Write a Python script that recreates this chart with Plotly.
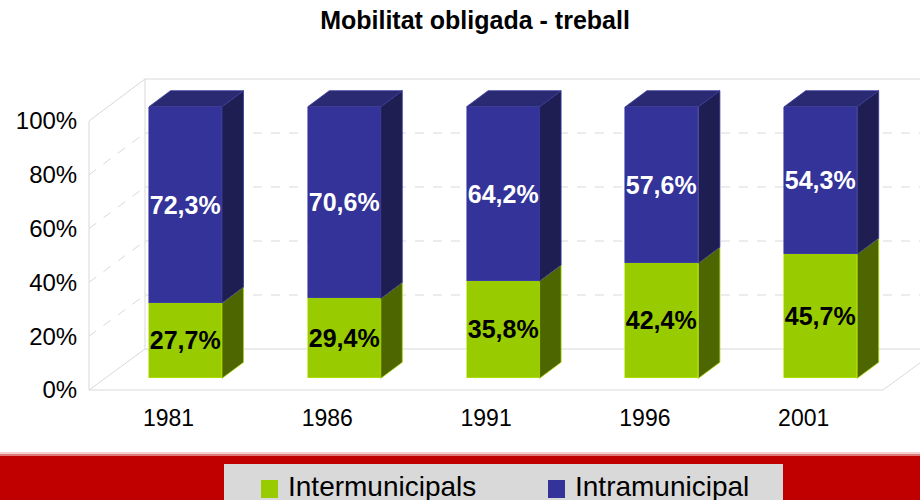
import plotly.graph_objects as go

# ---------------- data ----------------
years = ["1981", "1986", "1991", "1996", "2001"]
intermunicipals = [27.7, 29.4, 35.8, 42.4, 45.7]
intramunicipal = [72.3, 70.6, 64.2, 57.6, 54.3]
y_ticks = [0, 20, 40, 60, 80, 100]
series_names = ["Intermunicipals", "Intramunicipal"]


def fmt(v):
    return f"{v:.1f}".replace(".", ",") + "%"


inter_text = [fmt(v) for v in intermunicipals]
intra_text = [fmt(v) for v in intramunicipal]
y_tick_text = [f"{v}%" for v in y_ticks]

# ---------------- layout geometry ----------------
W, H = 920, 500
ML, MR, MT, MB = 88, 0, 60, 108
PX0, PX1 = ML, W - MR
PY0, PY1 = MT, H - MB

SX, CX0 = 158.8, 185.5      # px per category, px of first bar centre
SY, BY0 = 2.716, 378.3      # px per percent (bar plane), px of 0 %
BW = 73 / SX                # bar width in category units
DDX, DDY = 21.5 / SX, 16 / SY   # 3-D depth in data units
LABEL_SHIFT = 17 / SX       # category labels sit on the front floor edge

FONT = "Liberation Sans, Arial, sans-serif"
GREEN, GREEN_SIDE = "#99CC00", "#4D6600"
BLUE, BLUE_SIDE, BLUE_TOP = "#333399", "#1E1E52", "#2A2A72"
WALL = "#D9D9D9"


def dxp(px):
    return (px - CX0) / SX


def dyp(py):
    return (BY0 - py) / SY


def xp(px):
    return (px - PX0) / (PX1 - PX0)


def yp(py):
    return (PY1 - py) / (PY1 - PY0)


xs = list(range(len(years)))

fig = go.Figure()

fig.add_trace(go.Bar(
    x=xs, y=intermunicipals, width=BW, name=series_names[0],
    marker=dict(color=GREEN, line=dict(width=0.6, color="#B8E600")),
    text=inter_text, textposition="inside", insidetextanchor="middle",
    constraintext="none", textangle=0,
    textfont=dict(family=FONT, size=25, color="black", weight="bold"),
    hoverinfo="skip",
))
fig.add_trace(go.Bar(
    x=xs, y=intramunicipal, width=BW, name=series_names[1],
    marker=dict(color=BLUE, line=dict(width=0.6, color="#4545AA")),
    text=intra_text, textposition="inside", insidetextanchor="middle",
    constraintext="none", textangle=0,
    textfont=dict(family=FONT, size=25, color="white", weight="bold"),
    hoverinfo="skip",
))


def side_polys(lows, highs):
    px_, py_ = [], []
    for i, (lo, hi) in enumerate(zip(lows, highs)):
        xr = xs[i] + BW / 2
        px_ += [xr, xr + DDX, xr + DDX, xr, xr, None]
        py_ += [lo, lo + DDY, hi + DDY, hi, lo, None]
    return px_, py_


totals = [a + b for a, b in zip(intermunicipals, intramunicipal)]

gx, gy = side_polys([0] * len(xs), intermunicipals)
fig.add_trace(go.Scatter(x=gx, y=gy, mode="lines", fill="toself",
                         fillcolor=GREEN_SIDE, line=dict(color="#A8D400", width=0.8),
                         hoverinfo="skip", showlegend=False))
bx, by = side_polys(intermunicipals, totals)
fig.add_trace(go.Scatter(x=bx, y=by, mode="lines", fill="toself",
                         fillcolor=BLUE_SIDE, line=dict(color="#3A3A99", width=0.8),
                         hoverinfo="skip", showlegend=False))
tx, ty = [], []
for i, t in enumerate(totals):
    xl, xr = xs[i] - BW / 2, xs[i] + BW / 2
    tx += [xl, xl + DDX, xr + DDX, xr, xl, None]
    ty += [t, t + DDY, t + DDY, t, t, None]
fig.add_trace(go.Scatter(x=tx, y=ty, mode="lines", fill="toself",
                         fillcolor=BLUE_TOP, line=dict(color="#3A3A99", width=0.8),
                         hoverinfo="skip", showlegend=False))

# invisible trace carrying the label axes
fig.add_trace(go.Scatter(x=xs, y=[0] * len(xs), xaxis="x2", yaxis="y2",
                         mode="markers", marker=dict(opacity=0),
                         hoverinfo="skip", showlegend=False))

# ---------------- 3-D walls ----------------
shapes = []


def seg(p1, p2, dash="solid"):
    shapes.append(dict(type="line", xref="x", yref="y", layer="below",
                       x0=dxp(p1[0]), y0=dyp(p1[1]), x1=dxp(p2[0]), y1=dyp(p2[1]),
                       line=dict(color=WALL, width=1, dash=dash)))


BACK_L, BACK_R = 145, 940
FRONT_L = 89


def back_py(v):
    return 349 - 2.70 * v


def front_py(v):
    return 390 - 2.69 * v


seg((BACK_L, back_py(100)), (BACK_R, back_py(100)))
seg((BACK_L, back_py(0)), (BACK_R, back_py(0)))
seg((BACK_L, back_py(100)), (BACK_L, back_py(0)))
seg((FRONT_L, front_py(100)), (FRONT_L, front_py(0)))
seg((FRONT_L, front_py(100)), (BACK_L, back_py(100)))
seg((FRONT_L, front_py(0)), (BACK_L, back_py(0)))
for v in y_ticks[1:-1]:
    seg((BACK_L, back_py(v)), (BACK_R, back_py(v)), dash="dash")
    seg((FRONT_L, front_py(v)), (BACK_L, back_py(v)), dash="dash")
seg((FRONT_L, front_py(0)), (883, front_py(0)))
seg((883, front_py(0)), (939, back_py(0)))

# ---------------- bottom band + legend ----------------
paper_rect = lambda x0, y0, x1, y1, color: dict(
    type="rect", xref="paper", yref="paper", layer="above",
    x0=xp(x0), y0=yp(y0), x1=xp(x1), y1=yp(y1),
    fillcolor=color, line=dict(width=0))
shapes.append(paper_rect(0, 452, W, 454, "#F3D0D0"))
shapes.append(paper_rect(0, 454, W, 456, "#DD7A7A"))
shapes.append(paper_rect(0, 456, W, H + 2, "#C00000"))
shapes.append(paper_rect(224, 464, 783, H + 2, "#D9D9D9"))
shapes.append(paper_rect(261, 480, 278, 498, GREEN))
shapes.append(paper_rect(548, 480, 565, 498, BLUE))

annotations = [
    dict(text=series_names[0], x=xp(286), y=yp(486), xref="paper", yref="paper",
         xanchor="left", yanchor="middle", showarrow=False,
         font=dict(family=FONT, size=28, color="black")),
    dict(text=series_names[1], x=xp(573), y=yp(486), xref="paper", yref="paper",
         xanchor="left", yanchor="middle", showarrow=False,
         font=dict(family=FONT, size=28, color="black")),
]

x_range = [(PX0 - CX0) / SX, (PX1 - CX0) / SX]
y_range = [(BY0 - PY1) / SY, (BY0 - PY0) / SY]
FY0, FSY = 390, 2.69
y2_range = [(FY0 - PY1) / FSY, (FY0 - PY0) / FSY]

fig.update_layout(
    width=W, height=H,
    margin=dict(l=ML, r=MR, t=MT, b=MB),
    paper_bgcolor="white", plot_bgcolor="white",
    barmode="stack", bargap=0, showlegend=False,
    title=dict(text="Mobilitat obligada - treball", x=475 / W, xref="container",
               xanchor="center", y=1 - 20 / H, yref="container", yanchor="middle",
               font=dict(family=FONT, size=25, color="black", weight="bold")),
    xaxis=dict(range=x_range, visible=False, fixedrange=True),
    yaxis=dict(range=y_range, visible=False, fixedrange=True),
    xaxis2=dict(range=[x_range[0] + LABEL_SHIFT, x_range[1] + LABEL_SHIFT],
                overlaying="x", anchor="y2", side="bottom",
                tickvals=xs, ticktext=years, showgrid=False, zeroline=False,
                showline=False, ticks="outside", ticklen=5,
                tickcolor="rgba(0,0,0,0)", automargin=False,
                tickfont=dict(family=FONT, size=23, color="black")),
    yaxis2=dict(range=y2_range, overlaying="y", anchor="x2", side="left",
                tickvals=y_ticks, ticktext=y_tick_text, showgrid=False,
                zeroline=False, showline=False, ticks="outside", ticklen=5,
                tickcolor="rgba(0,0,0,0)", automargin=False,
                tickfont=dict(family=FONT, size=24, color="black")),
    shapes=shapes, annotations=annotations,
)

fig.write_html(
    "out.html",
    config={"displayModeBar": False},
    post_script="document.body.style.margin='0';document.body.style.overflow='hidden';",
)
